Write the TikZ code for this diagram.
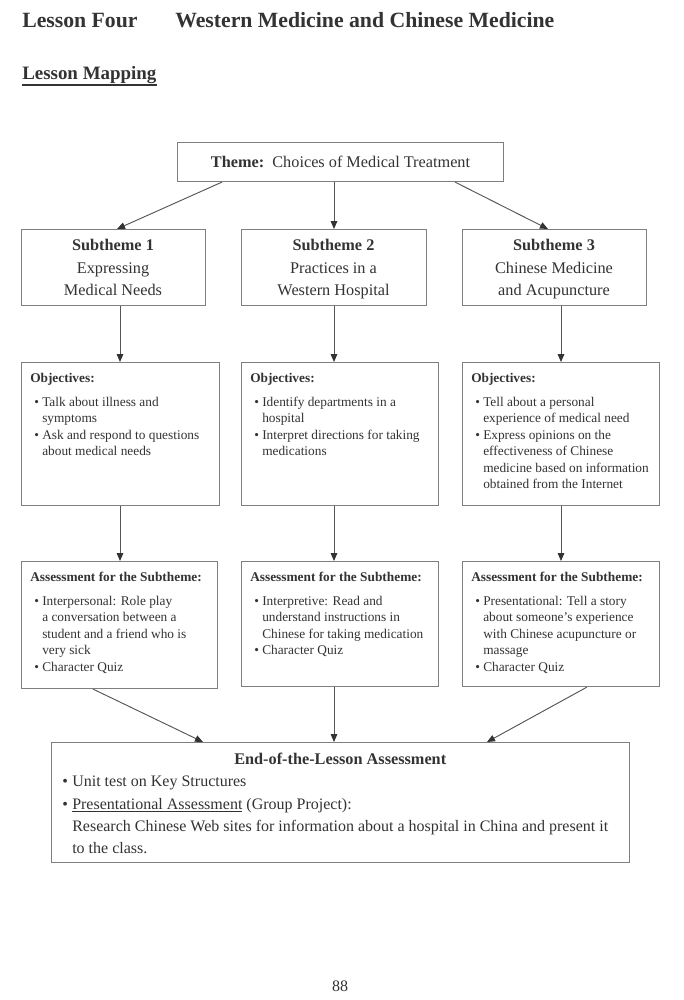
\documentclass[tikz,border=0pt]{standalone}
\usepackage{fontspec}
\setmainfont{Liberation Serif}
\usetikzlibrary{calc,arrows.meta}
\definecolor{txt}{HTML}{333333}
\definecolor{boxc}{HTML}{7F7F7F}
\definecolor{linec}{HTML}{555555}
\newcommand\bitem[1]{\par\noindent\hangindent=9pt\hangafter=1\hspace*{3pt}\makebox[6pt][l]{\textbullet}#1}
\newcommand\eitem[1]{\par\noindent\hangindent=10.5pt\hangafter=1\hspace*{3pt}\makebox[7.5pt][l]{\textbullet}#1}
\newcommand\bodyfont{\fontsize{10}{12.3}\selectfont}
\newcommand\subfont{\fontsize{12.2}{16.9}\selectfont}
\begin{document}
\begin{tikzpicture}[x=0.75pt,y=-0.75pt,
  every node/.style={text=txt,inner sep=0pt},
  box/.style={draw=boxc,line width=0.8pt,rectangle,anchor=north west,inner sep=0pt},
  sz/.style 2 args={minimum width=#1*0.75pt,minimum height=#2*0.75pt},
  arr/.style={draw=linec,line width=0.7pt,-{Triangle[length=6pt,width=5pt,color=txt]}},
  body/.style={anchor=base west,font=\bodyfont},
  subt/.style={anchor=base,font=\subfont}]
\useasboundingbox[fill=white] (0,0) rectangle (684,1000);

% headings
\node[anchor=base west,font=\fontsize{16.3}{19}\selectfont\bfseries] (lesson) at (22,27) {Lesson Four};
\node[anchor=base west,font=\fontsize{16.3}{19}\selectfont\bfseries] (title) at (175,27) {Western Medicine and Chinese Medicine};
\node[anchor=base west,font=\fontsize{14.2}{17}\selectfont\bfseries] (mapping) at (22,79.5) {Lesson Mapping};
\draw[txt,line width=1.5pt] (mapping.south west |- 0,85) coordinate (ul1) -- (mapping.south east |- 0,85) coordinate (ul2);

% theme
\node[box,sz={326}{39},font=\fontsize{12.2}{14}\selectfont] (theme) at (177,142) {\textbf{Theme:}\hspace{0.5em}Choices of Medical Treatment};

% subthemes
\node[box,sz={184}{76}] (sub1) at (21,229) {};
\node[box,sz={185}{76}] (sub2) at (241,229) {};
\node[box,sz={184}{76}] (sub3) at (462,229) {};
\node[subt] (sub1t) at (113,250.5) {\begin{minipage}[t]{130pt}\centering\textbf{Subtheme 1}\\Expressing\\Medical Needs\end{minipage}};
\node[subt] (sub2t) at (333.5,250.5) {\begin{minipage}[t]{130pt}\centering\textbf{Subtheme 2}\\Practices in a\\Western Hospital\end{minipage}};
\node[subt] (sub3t) at (554,250.5) {\begin{minipage}[t]{130pt}\centering\textbf{Subtheme 3}\\Chinese Medicine\\and Acupuncture\end{minipage}};

% objectives
\node[box,sz={198}{143}] (obj1) at (21,362) {};
\node[box,sz={197}{143}] (obj2) at (241,362) {};
\node[box,sz={197}{143}] (obj3) at (462,362) {};
\node[body] (obj1t) at (30,382.5) {\begin{minipage}[t]{142pt}\raggedright\textbf{Objectives:}\par\vspace{5.7pt}%
\bitem{Talk about illness and\newline symptoms}%
\bitem{Ask and respond to questions\newline about medical needs}\end{minipage}};
\node[body] (obj2t) at (250,382.5) {\begin{minipage}[t]{142pt}\raggedright\textbf{Objectives:}\par\vspace{5.7pt}%
\bitem{Identify departments in a\newline hospital}%
\bitem{Interpret directions for taking\newline medications}\end{minipage}};
\node[body] (obj3t) at (471,382.5) {\begin{minipage}[t]{142pt}\raggedright\textbf{Objectives:}\par\vspace{5.7pt}%
\bitem{Tell about a personal\newline experience of medical need}%
\bitem{Express opinions on the\newline effectiveness of Chinese\newline medicine based on information\newline obtained from the Internet}\end{minipage}};

% assessments
\node[box,sz={196}{127}] (asm1) at (21,561) {};
\node[box,sz={197}{125}] (asm2) at (241,561) {};
\node[box,sz={197}{125}] (asm3) at (462,561) {};
\node[body] (asm1t) at (30,581.5) {\begin{minipage}[t]{142pt}\raggedright\textbf{Assessment for the Subtheme:}\par\vspace{5.7pt}%
\bitem{Interpersonal: Role play\newline a conversation between a\newline student and a friend who is\newline very sick}%
\bitem{Character Quiz}\end{minipage}};
\node[body] (asm2t) at (250,581.5) {\begin{minipage}[t]{142pt}\raggedright\textbf{Assessment for the Subtheme:}\par\vspace{5.7pt}%
\bitem{Interpretive: Read and\newline understand instructions in\newline Chinese for taking medication}%
\bitem{Character Quiz}\end{minipage}};
\node[body] (asm3t) at (471,581.5) {\begin{minipage}[t]{142pt}\raggedright\textbf{Assessment for the Subtheme:}\par\vspace{5.7pt}%
\bitem{Presentational: Tell a story\newline about someone's experience\newline with Chinese acupuncture or\newline massage}%
\bitem{Character Quiz}\end{minipage}};

% end of lesson
\node[box,sz={578}{120}] (end) at (51,742) {};
\node[anchor=base west,font=\fontsize{12}{16.7}\selectfont] (endt) at (58,764.5) {\begin{minipage}[t]{423pt}{\centering\fontsize{12.2}{16.7}\selectfont\textbf{End-of-the-Lesson Assessment}\par}\raggedright
\eitem{Unit test on Key Structures}%
\eitem{\underline{Presentational Assessment} (Group Project):\newline Research Chinese Web sites for information about a hospital in China and present it\newline to the class.}\end{minipage}};

% page number
\node[anchor=base,font=\fontsize{12}{14}\selectfont] (page) at (340,991) {88};

% connectors
\draw[arr] ($(theme.south west)+(45,0)$) -- ($(sub1.north west)+(96,0)$);
\draw[arr] ($(theme.south west)+(157,0)$) -- ($(sub2.north west)+(93,0)$);
\draw[arr] ($(theme.south west)+(278,0)$) -- ($(sub3.north west)+(86,0)$);
\draw[arr] ($(sub1.south west)+(99,0)$) -- ($(obj1.north west)+(99,0)$);
\draw[arr] ($(sub2.south west)+(93,0)$) -- ($(obj2.north west)+(93,0)$);
\draw[arr] ($(sub3.south west)+(99,0)$) -- ($(obj3.north west)+(99,0)$);
\draw[arr] ($(obj1.south west)+(99,0)$) -- ($(asm1.north west)+(99,0)$);
\draw[arr] ($(obj2.south west)+(93,0)$) -- ($(asm2.north west)+(93,0)$);
\draw[arr] ($(obj3.south west)+(99,0)$) -- ($(asm3.north west)+(99,0)$);
\draw[arr] ($(asm1.south west)+(72,0)$) -- ($(end.north west)+(152,0)$);
\draw[arr] ($(asm2.south west)+(93,0)$) -- ($(end.north west)+(283,0)$);
\draw[arr] ($(asm3.south west)+(125,0)$) -- ($(end.north west)+(436,0)$);
\end{tikzpicture}
\end{document}
